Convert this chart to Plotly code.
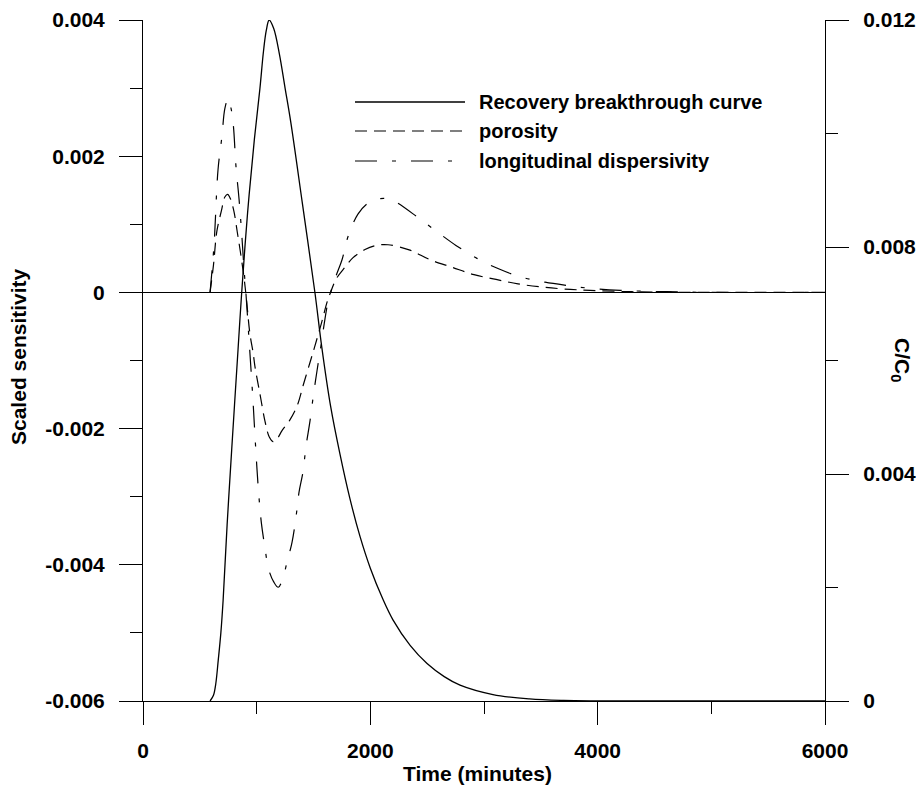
import plotly.graph_objects as go

# ---------------- data ----------------
time_btc = [590, 620, 640, 662, 685, 705, 740, 780, 836, 868, 920, 980, 1029, 1060, 1085, 1110,
            1150, 1200, 1250, 1300, 1400, 1513, 1572, 1650, 1733, 1820, 1909, 2000, 2109, 2199,
            2350, 2499, 2650, 2789, 3079, 3400, 3700, 4000, 4500, 5000, 6000]
c_btc = [0, 0.0001, 0.0003, 0.00072, 0.0012, 0.00178, 0.0031, 0.00442, 0.00619, 0.00719, 0.0086,
         0.0099, 0.0108, 0.01145, 0.01182, 0.0120, 0.01185, 0.0114, 0.0108, 0.0102, 0.0088,
         0.00719, 0.00625, 0.0052, 0.00435, 0.00357, 0.0029, 0.00234, 0.0018, 0.00143, 0.00098,
         0.00066, 0.00043, 0.00028, 0.000114, 0.000037, 0.00001, 0.000003, 0, 0, 0]

time_por = [590, 620, 650, 690, 720, 745, 770, 800, 830, 860, 890, 910, 940, 970, 985, 1030, 1073,
            1110, 1144, 1180, 1223, 1290, 1355, 1410, 1469, 1510, 1570, 1620, 1650, 1700, 1777,
            1848, 1953, 2050, 2155, 2349, 2525, 2718, 2912, 3106, 3299, 3501, 3704, 3933, 4300,
            5000, 6000]
por = [0, 0.0004, 0.0009, 0.0012, 0.0014, 0.00144, 0.00137, 0.00119, 0.00088, 0.00056, 0.0002,
       -0.0001, -0.0006, -0.0009, -0.00109, -0.0015, -0.00189, -0.00212, -0.00219, -0.00215,
       -0.00203, -0.00188, -0.00167, -0.00136, -0.00103, -0.00080, -0.00045, -0.00014, 0.0,
       0.0002, 0.00037, 0.00051, 0.00063, 0.00069, 0.0007, 0.00062, 0.00048, 0.00037, 0.00026,
       0.00019, 0.000125, 0.00008, 0.00005, 0.00003, 0.00001, 0, 0]

time_disp = [590, 625, 660, 695, 720, 750, 775, 795, 818, 845, 871, 889, 905, 941, 968, 985, 1003,
             1020, 1041, 1071, 1106, 1150, 1190, 1230, 1267, 1311, 1346, 1372, 1408, 1434, 1469,
             1500, 1531, 1566, 1600, 1630, 1660, 1700, 1751, 1804, 1891, 1979, 2059, 2130, 2173,
             2243, 2419, 2595, 2753, 2938, 3123, 3317, 3537, 3739, 3933, 4200, 4600, 5000, 6000]
disp = [0, 0.0007, 0.0018, 0.0023, 0.0027, 0.00285, 0.0027, 0.00245, 0.00185, 0.00137, 0.0008,
        0.00034, 0, -0.0009, -0.0016, -0.0021, -0.0026, -0.0030, -0.00338, -0.00373, -0.00407,
        -0.00425, -0.00433, -0.0042, -0.00396, -0.00367, -0.0033, -0.00294, -0.00263, -0.00226,
        -0.00189, -0.0015, -0.00115, -0.00078, -0.0004, -0.00012, 0.00005, 0.00025, 0.00048,
        0.00082, 0.00115, 0.00131, 0.00137, 0.00138, 0.00137, 0.00131, 0.0011, 0.00088, 0.00069,
        0.0005, 0.00035, 0.00023, 0.00015, 0.0001, 0.00006, 0.00003, 0.00001, 0, 0]

series_names = ["Recovery breakthrough curve", "porosity", "longitudinal dispersivity"]

x_tickvals = [0, 2000, 4000, 6000]
x_ticktext = ["0", "2000", "4000", "6000"]
x_minor = [1000, 3000, 5000]

y_tickvals = [0.004, 0.002, 0, -0.002, -0.004, -0.006]
y_ticktext = ["0.004", "0.002", "0", "-0.002", "-0.004", "-0.006"]
y_minor = [0.003, 0.001, -0.001, -0.003, -0.005]

y2_tickvals = [0, 0.004, 0.008, 0.012]
y2_ticktext = ["0", "0.004", "0.008", "0.012"]
y2_minor = [0.002, 0.006, 0.010]

# ---------------- styling ----------------
FONT = "Liberation Sans, Arial, sans-serif"
W, H = 916, 785
L, R, T, B = 143, 91, 20, 84
PW, PH = W - L - R, H - T - B

def px_to_paper(px, py):
    return (px - L) / PW, (H - B - py) / PH

styles = [
    dict(color="black", width=1.3, dash="solid"),
    dict(color="black", width=1.2, dash="12px,7px"),
    dict(color="black", width=1.2, dash="22px,15px,4px,15px"),
]

fig = go.Figure()
fig.add_trace(go.Scatter(x=time_btc, y=c_btc, yaxis="y2", mode="lines", name=series_names[0],
                         line=dict(**styles[0], shape="spline", smoothing=1.0), showlegend=False))
fig.add_trace(go.Scatter(x=time_por, y=por, yaxis="y", mode="lines", name=series_names[1],
                         line=dict(**styles[1], shape="spline", smoothing=1.0), showlegend=False))
fig.add_trace(go.Scatter(x=time_disp, y=disp, yaxis="y", mode="lines", name=series_names[2],
                         line=dict(**styles[2], shape="spline", smoothing=1.0), showlegend=False))

tickfont = dict(family=FONT, size=21, color="black", weight=700)
common = dict(showline=True, linecolor="black", linewidth=1, ticks="outside", ticklen=23,
              tickwidth=1, tickcolor="black", showgrid=False, tickfont=tickfont, automargin=False)

fig.update_layout(
    width=W, height=H,
    margin=dict(l=L, r=R, t=T, b=B, pad=0),
    paper_bgcolor="white", plot_bgcolor="white",
    showlegend=False,
    xaxis=dict(range=[0, 6000], tickmode="array", tickvals=x_tickvals, ticktext=x_ticktext,
               zeroline=False, ticklabelstandoff=8,
               minor=dict(tickmode="array", tickvals=x_minor, ticks="outside", ticklen=12,
                          tickcolor="black", tickwidth=1, showgrid=False),
               **common),
    yaxis=dict(range=[-0.006, 0.004], tickmode="array", tickvals=y_tickvals, ticktext=y_ticktext,
               zeroline=True, zerolinecolor="black", zerolinewidth=1, ticklabelstandoff=10,
               minor=dict(tickmode="array", tickvals=y_minor, ticks="outside", ticklen=12,
                          tickcolor="black", tickwidth=1, showgrid=False),
               **common),
    yaxis2=dict(range=[0, 0.012], overlaying="y", side="right", anchor="x", tickmode="array",
                tickvals=y2_tickvals, ticktext=y2_ticktext, zeroline=False, ticklabelstandoff=10,
                minor=dict(tickmode="array", tickvals=y2_minor, ticks="outside", ticklen=12,
                           tickcolor="black", tickwidth=1, showgrid=False),
                **common),
)

titlefont = dict(family=FONT, size=21, color="black", weight=700)
legfont = dict(family=FONT, size=20, color="black", weight=700)

# axis titles
ax_x, ax_y = px_to_paper(477, 773)
fig.add_annotation(text="Time (minutes)", x=ax_x, y=ax_y, xref="paper", yref="paper",
                   xanchor="center", yanchor="middle", showarrow=False, font=titlefont)
ly_x, ly_y = px_to_paper(18, 357)
fig.add_annotation(text="Scaled sensitivity", x=ly_x, y=ly_y, xref="paper", yref="paper",
                   xanchor="center", yanchor="middle", showarrow=False, font=titlefont,
                   textangle=-90)
ry_x, ry_y = px_to_paper(901, 360)
fig.add_annotation(text="C/C<sub>0</sub>", x=ry_x, y=ry_y, xref="paper", yref="paper",
                   xanchor="center", yanchor="middle", showarrow=False, font=titlefont,
                   textangle=90)

# legend (drawn as line samples + labels)
leg_rows_py = [102, 131, 161]
leg_x0, leg_x1, leg_text_x = 355, 465, 477
for name, st, py in zip(series_names, styles, leg_rows_py):
    x0, yy = px_to_paper(leg_x0, py)
    x1, _ = px_to_paper(leg_x1, py)
    xt, _ = px_to_paper(leg_text_x, py)
    fig.add_shape(type="line", xref="paper", yref="paper", x0=x0, x1=x1, y0=yy, y1=yy,
                  line=dict(color=st["color"], width=st["width"], dash=st["dash"]))
    fig.add_annotation(text=name, x=xt, y=yy, xref="paper", yref="paper", xanchor="left",
                       yanchor="middle", showarrow=False, font=legfont)

fig.write_html("out.html")
